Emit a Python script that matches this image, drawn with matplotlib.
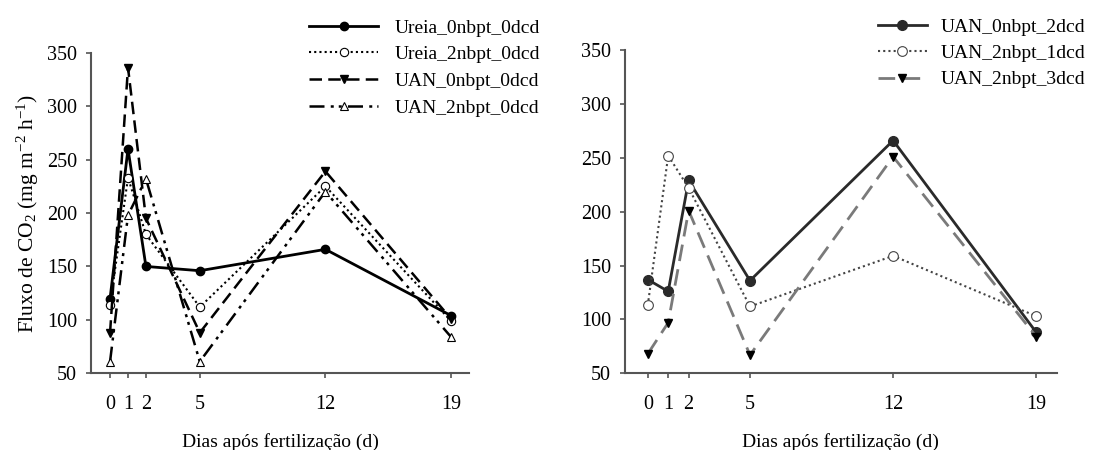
import numpy as np
import matplotlib.pyplot as plt

plt.rcParams['font.family'] = ['Liberation Serif', 'DejaVu Serif']
plt.rcParams['mathtext.fontset'] = 'custom'
plt.rcParams['mathtext.rm'] = 'Liberation Serif'
plt.rcParams['mathtext.it'] = 'Liberation Serif:italic'

dias = [0, 1, 2, 5, 12, 19]

# painel esquerdo
ureia_0nbpt_0dcd = [120, 260, 150, 146, 166, 104]
ureia_2nbpt_0dcd = [114, 233, 180, 112, 225, 99]
uan_0nbpt_0dcd = [88, 336, 195, 88, 239, 101]
uan_2nbpt_0dcd = [61, 198, 232, 61, 220, 84]

# painel direito
uan_0nbpt_2dcd = [137, 126, 229, 136, 266, 88]
uan_2nbpt_1dcd = [113, 252, 222, 112, 159, 103]
uan_2nbpt_3dcd = [68, 97, 201, 67, 251, 84]

fig = plt.figure(figsize=(11.02, 4.5), dpi=100)
ax1 = fig.add_axes([0.0826, 0.1704, 0.343, 0.7125])
ax2 = fig.add_axes([0.5672, 0.1704, 0.3917, 0.7185])

ax1.plot(dias, ureia_0nbpt_0dcd, color='black', lw=2, ls='-', marker='o', ms=6,
         label='Ureia_0nbpt_0dcd')
ax1.plot(dias, ureia_2nbpt_0dcd, color='black', lw=1.5, ls=(0, (1, 1.5)), marker='o', ms=6,
         mfc='white', mew=0.8, label='Ureia_2nbpt_0dcd')
ax1.plot(dias, uan_0nbpt_0dcd, color='black', lw=1.8, ls=(0, (5, 2.5)), marker='v', ms=6,
         label='UAN_0nbpt_0dcd')
ax1.plot(dias, uan_2nbpt_0dcd, color='black', lw=1.8, ls=(0, (6, 2.5, 1.2, 2, 1.2, 2.5)),
         marker='^', ms=6, mfc='white', mew=0.8, label='UAN_2nbpt_0dcd')

ax2.plot(dias, uan_0nbpt_2dcd, color='#2a2a2a', lw=2, ls='-', marker='o', ms=7,
         label='UAN_0nbpt_2dcd')
ax2.plot(dias, uan_2nbpt_1dcd, color='#444444', lw=1.5, ls=(0, (1, 1.5)), marker='o', ms=7,
         mfc='white', mew=0.8, label='UAN_2nbpt_1dcd')
ax2.plot(dias, uan_2nbpt_3dcd, color='#7a7a7a', lw=2, ls=(0, (6, 3)), marker='v', ms=6,
         mfc='black', mec='black', label='UAN_2nbpt_3dcd')

for ax, xmin in [(ax1, -1.06), (ax2, -1.11)]:
    ax.set_xlim(xmin, 20)
    ax.set_ylim(50, 350)
    ax.set_xticks(dias)
    ax.set_yticks(np.arange(50, 351, 50))
    ax.spines['top'].set_visible(False)
    ax.spines['right'].set_visible(False)
    for s in ['left', 'bottom']:
        ax.spines[s].set_color('#555555')
        ax.spines[s].set_linewidth(1.5)
    ax.tick_params(direction='out', length=3.5, width=1.2, color='#555555',
                   labelsize=14.5)
    ax.tick_params(axis='y', pad=6.5)
    ax.tick_params(axis='x', pad=12)
    ax.set_xlabel('Dias após fertilização (d)', fontsize=14, labelpad=14)

ax1.set_ylabel('Fluxo de CO$_2$ (mg m$^{-2}$ h$^{-1}$)', fontsize=15.5, labelpad=4)

ax1.legend(loc='upper left', bbox_to_anchor=(0.2804, 0.958), bbox_transform=fig.transFigure,
           frameon=False, fontsize=14, handlelength=3.55, handletextpad=0.88,
           labelspacing=0.47, borderaxespad=0, borderpad=0)
ax2.legend(loc='upper left', bbox_to_anchor=(0.7967, 0.96), bbox_transform=fig.transFigure,
           frameon=False, fontsize=14, handlelength=2.5, handletextpad=0.72,
           labelspacing=0.45, borderaxespad=0, borderpad=0)

fig.savefig('out.png', dpi=100)
